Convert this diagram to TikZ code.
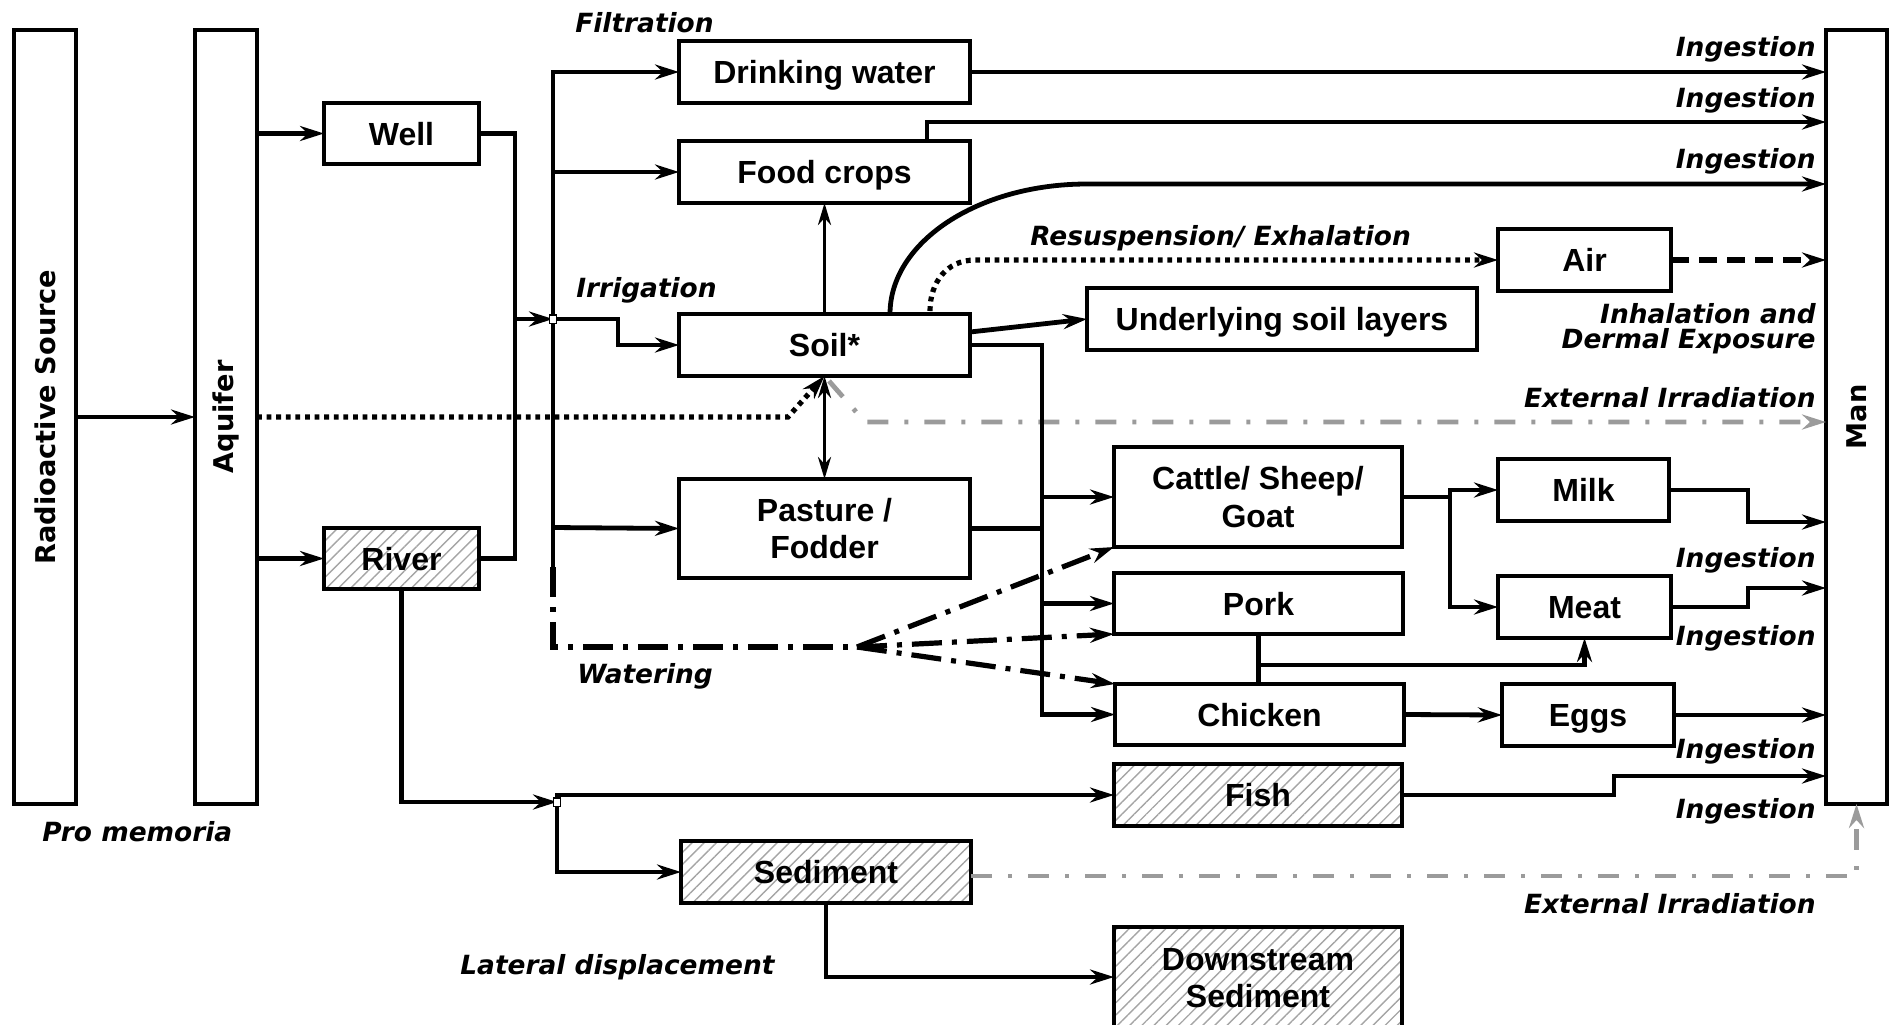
\documentclass[tikz,border=0pt]{standalone}
\usepackage{fontspec}
\usetikzlibrary{arrows.meta,patterns.meta,calc}
\newfontfamily\libsans{Liberation Sans}
\newfontfamily\dvsans{DejaVu Sans}
\definecolor{lgray}{RGB}{155,155,155}
\definecolor{hatchc}{RGB}{165,165,165}
\begin{document}
\begin{tikzpicture}[x=0.5pt,y=-0.5pt,
 box/.style={draw, line width=2pt, inner sep=0pt, outer sep=0pt, align=center,
   font=\libsans\bfseries\fontsize{16}{18.7}\selectfont},
 sbox/.style={box, text height=11.6pt, text depth=0pt},
 hbox/.style={box, pattern={Lines[angle=45,distance=4.3pt,line width=0.7pt]}, pattern color=hatchc},
 shbox/.style={hbox, text height=11.6pt, text depth=0pt},
 vlab/.style={font=\dvsans\bfseries\fontsize{13.6}{16}\selectfont, rotate=90, inner sep=0pt},
 lab/.style={font=\dvsans\bfseries\itshape\fontsize{13.2}{15}\selectfont, inner sep=0pt},
 tipk/.style={-{Stealth[length=12pt,width=7.5pt,inset=4pt]}},
 line/.style={line width=2.4pt},
 conn/.style={line, tipk},
 thinconn/.style={line width=1.6pt, -{Stealth[length=11pt,width=6.5pt,inset=3.5pt]}},
 dbl/.style={line width=1.6pt, {Stealth[length=11pt,width=6.5pt,inset=3.5pt]}-{Stealth[length=11pt,width=6.5pt,inset=3.5pt]}},
 dotconn/.style={line width=2.6pt, dash pattern=on 2.4pt off 2.4pt, tipk},
 dashconn/.style={line width=3pt, dash pattern=on 9pt off 5pt, tipk},
 grayconn/.style={draw=lgray, line width=2.4pt, dash pattern=on 10.5pt off 8pt on 2pt off 8pt,
   -{Stealth[length=12pt,width=7.5pt,inset=4pt,fill=lgray]}},
 wdash/.style={line width=2.6pt, dash pattern=on 15pt off 5pt on 2.5pt off 5pt},
 junc/.style={draw, fill=white, rectangle, line width=0.7pt, minimum width=3.6pt, minimum height=4.2pt, inner sep=0pt}
]
\useasboundingbox (0,0) rectangle (1890,1024);
\clip (0,0) rectangle (1890,1024);

% tall boxes
\node[box, minimum width=31pt, minimum height=387pt] (src) at (45,417) {};
\node[vlab] (srct) at (src.center) {Radioactive Source};
\node[box, minimum width=31pt, minimum height=387pt] (aq) at (226,417) {};
\node[vlab] (aqt) at (aq.center) {Aquifer};
\node[box, minimum width=30.5pt, minimum height=387pt] (man) at (1856.5,417) {};
\node[vlab] (mant) at (man.center) {Man};

% boxes
\node[sbox, minimum width=77.5pt, minimum height=30.5pt] (well) at (401.5,133.5) {Well};
\node[shbox, minimum width=77.5pt, minimum height=30.5pt] (river) at (401.5,558.5) {River};
\node[sbox, minimum width=145.5pt, minimum height=31pt] (dw) at (824.5,72) {Drinking water};
\node[sbox, minimum width=145.5pt, minimum height=31pt] (fc) at (824.5,172) {Food crops};
\node[sbox, minimum width=145.5pt, minimum height=31pt] (soil) at (824.5,345) {Soil*};
\node[sbox, minimum width=195pt, minimum height=31pt] (usl) at (1282,319) {Underlying soil layers};
\node[sbox, minimum width=86.5pt, minimum height=31pt] (air) at (1584.5,260) {Air};
\node[box, minimum width=145.5pt, minimum height=49.5pt] (past) at (824.5,528.5) {Pasture /\\Fodder};
\node[box, minimum width=144pt, minimum height=50pt] (cattle) at (1258,497) {Cattle/ Sheep/\\Goat};
\node[sbox, minimum width=144.5pt, minimum height=30.5pt] (pork) at (1258.5,603.5) {Pork};
\node[sbox, minimum width=144.5pt, minimum height=30.5pt] (chick) at (1259.5,714.5) {Chicken};
\node[sbox, minimum width=85.5pt, minimum height=31pt] (milk) at (1583.5,490) {Milk};
\node[sbox, minimum width=86.5pt, minimum height=31pt] (meat) at (1584.5,607) {Meat};
\node[sbox, minimum width=86pt, minimum height=31pt] (eggs) at (1588,715) {Eggs};
\node[shbox, minimum width=144pt, minimum height=31pt] (fish) at (1258,795) {Fish};
\node[shbox, minimum width=145pt, minimum height=31pt] (sed) at (826,872) {Sediment};
\node[hbox, minimum width=144pt, minimum height=51pt] (down) at (1258,978) {Downstream\\Sediment};

% coordinates
\coordinate (j1) at (553,319);
\coordinate (j2) at (557,802);
\coordinate (wf) at (857,647);

% left side
\draw[conn] (src.east) -- (aq.west);
\draw[conn] (aq.east |- well.west) -- (well.west);
\draw[conn] (aq.east |- river.west) -- (river.west);
\draw[line] (well.east) -| (515,558.5) -- (river.east);
\draw[conn] (515,319) -- (j1);
\draw[conn] (553,567) -- (553,72) -- (dw.west);
\draw[conn] (553,172) -- (fc.west);
\draw[conn] (j1) -- (618,319) |- (soil.west);
\draw[conn] (553,527.5) -- (past.west);
\draw[wdash] (553,567) -- (553,647) -- (wf);
\draw[wdash, tipk] (wf) -- (cattle.south west);
\draw[wdash, tipk] (wf) -- (pork.south west);
\draw[wdash, tipk] (wf) -- (chick.north west);

% soil relations
\draw[thinconn] (soil.north) -- (fc.south);
\draw[dbl] (soil.south) -- (past.north);
\draw[dotconn] (aq.east) -- (788,417) -- (soil.south);
\draw[grayconn] (829,381) -- (865,422) -- (man.west |- 0,422);
\draw[conn] (970,332) -- (usl.west);
\draw[conn] (890,314) .. controls (890,242) and (978,184) .. (1087,184) -- (man.west |- 0,184);
\draw[dotconn] (930,311) .. controls (930,282) and (947,260) .. (975,260) -- (air.west);
\draw[dashconn] (air.east) -- (man.west |- air.east);

% to man
\draw[conn] (dw.east) -- (man.west |- dw.east);
\draw[conn] (927,141) -- (927,122) -- (man.west |- 0,122);

% animals
\draw[conn] (soil.east) -| (1042,714.5) -- (chick.west);
\draw[line] (past.east) -- (1042,528.5);
\draw[conn] (1042,497) -- (cattle.west);
\draw[conn] (1042,603.5) -- (pork.west);
\draw[line] (cattle.east) -- (1450,497);
\draw[conn] (1450,607) |- (milk.west);
\draw[conn] (1450,497) |- (meat.west);
\draw[line] (pork.south) -- (pork.south |- chick.north);
\draw[conn] (pork.south |- 0,665) -| (meat.south);
\draw[conn] (chick.east) -- (eggs.west);
\draw[conn] (milk.east) -- (1748,490) -- (1748,522) -- (man.west |- 0,522);
\draw[conn] (meat.east) -- (1748,607) -- (1748,588) -- (man.west |- 0,588);
\draw[conn] (eggs.east) -- (man.west |- eggs.east);
\draw[conn] (fish.east) -- (1614,795) -- (1614,776) -- (man.west |- 0,776);

% river branch
\draw[conn] (river.south) -- (401.5,802) -- (j2);
\draw[conn] (j2) |- (fish.west);
\draw[conn] (j2) |- (sed.west);
\draw[conn] (sed.south) -- (826,977) -- (down.west |- 0,977);
\draw[grayconn] (sed.east |- 0,876) -- (1856.5,876) -- (man.south);

% junction markers
\node[junc] at (j1) {};
\node[junc] at (j2) {};

% labels
\node[lab, anchor=base west] (lfil) at (575,32) {Filtration};
\node[lab, anchor=base west] (lirr) at (576,297) {Irrigation};
\node[lab, anchor=base west] (lres) at (1030,245) {Resuspension/ Exhalation};
\node[lab, anchor=base west] (lwat) at (577,683) {Watering};
\node[lab, anchor=base west] (lpro) at (42,841) {Pro memoria};
\node[lab, anchor=base west] (llat) at (460,974) {Lateral displacement};
\node[lab, anchor=base east] (li1) at (1816,56) {Ingestion};
\node[lab, anchor=base east] (li2) at (1816,107) {Ingestion};
\node[lab, anchor=base east] (li3) at (1816,168) {Ingestion};
\node[lab, anchor=base east] (linh) at (1816,323) {Inhalation and};
\node[lab, anchor=base east] (lder) at (1816,348) {Dermal Exposure};
\node[lab, anchor=base east] (lext1) at (1816,407) {External Irradiation};
\node[lab, anchor=base east] (li4) at (1816,567) {Ingestion};
\node[lab, anchor=base east] (li5) at (1816,645) {Ingestion};
\node[lab, anchor=base east] (li6) at (1816,758) {Ingestion};
\node[lab, anchor=base east] (li7) at (1816,818) {Ingestion};
\node[lab, anchor=base east] (lext2) at (1816,913) {External Irradiation};
\end{tikzpicture}
\end{document}
